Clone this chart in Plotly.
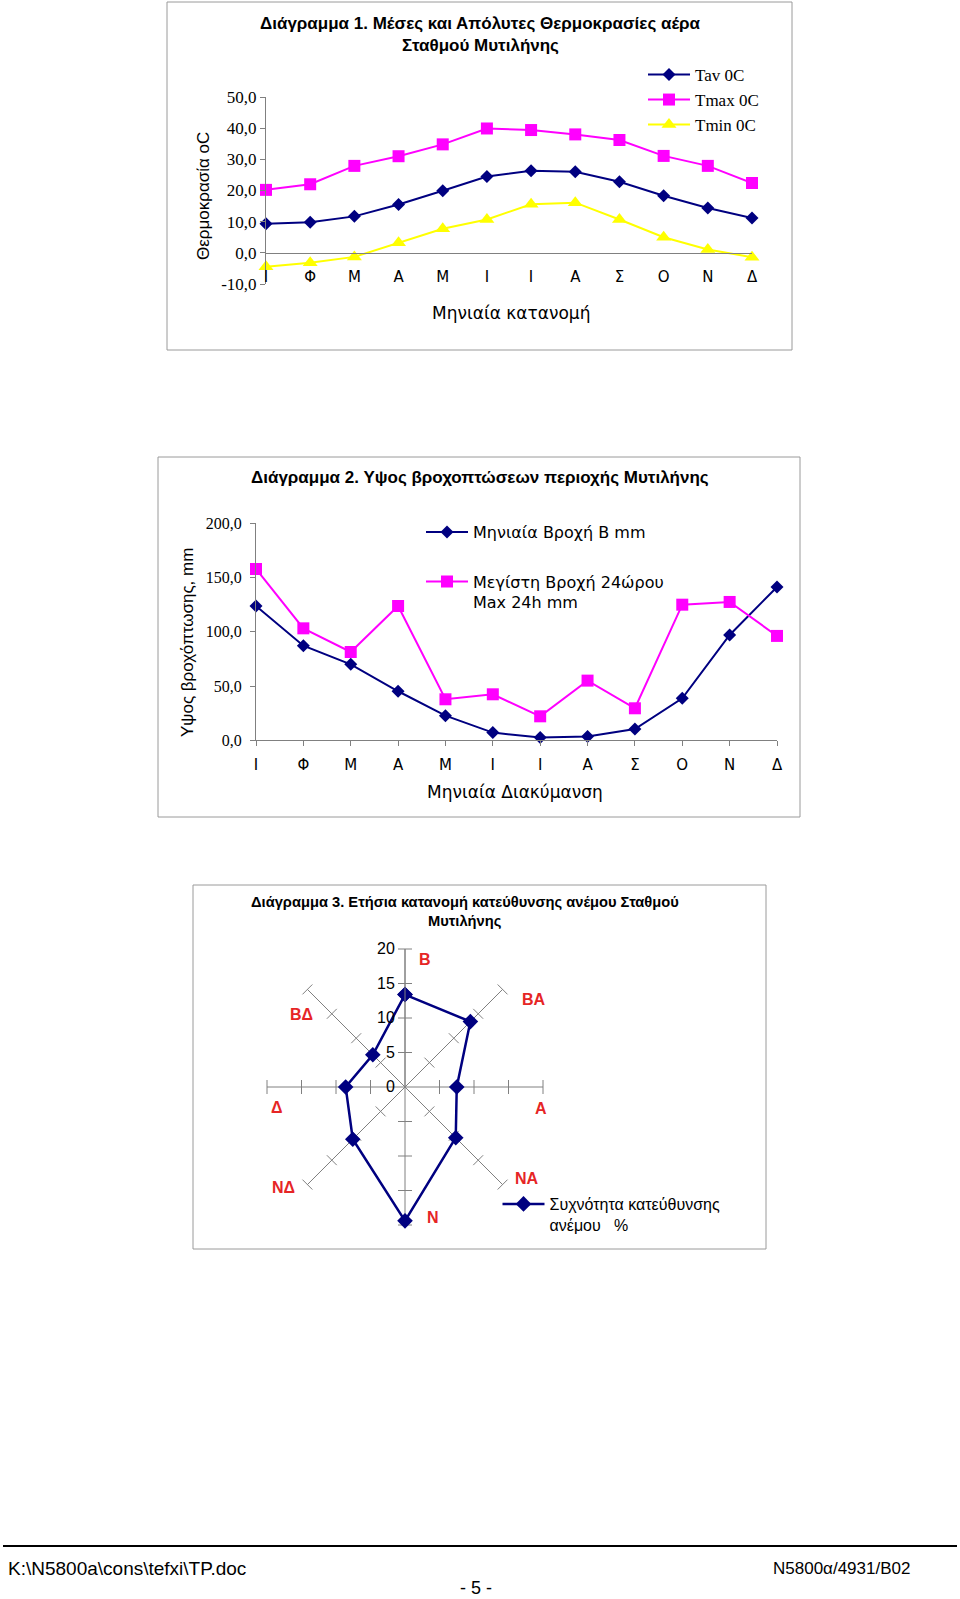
import plotly.graph_objects as go

W, H = 960, 1599

# ---------------- data ----------------
months = ["Ι", "Φ", "Μ", "Α", "Μ", "Ι", "Ι", "Α", "Σ", "Ο", "Ν", "Δ"]
t_av = [9.3, 9.8, 11.7, 15.5, 19.9, 24.5, 26.3, 26.0, 22.8, 18.3, 14.4, 11.2]
t_max = [20.2, 22.0, 27.9, 31.0, 34.8, 39.9, 39.4, 38.0, 36.2, 31.1, 27.9, 22.4]
t_min = [-4.5, -3.2, -1.3, 3.2, 7.7, 10.7, 15.6, 16.1, 10.7, 5.0, 1.1, -1.4]
temp_ticks = [-10, 0, 10, 20, 30, 40, 50]
temp_tick_labels = ["-10,0", "0,0", "10,0", "20,0", "30,0", "40,0", "50,0"]

rain_month = [123.8, 87.2, 70.0, 45.2, 22.7, 7.1, 2.5, 3.4, 10.4, 38.7, 97.1, 141.3]
rain_max24 = [157.9, 103.2, 81.4, 123.8, 37.8, 42.4, 22.1, 55.0, 29.5, 125.0, 127.5, 96.2]
rain_ticks = [0, 50, 100, 150, 200]
rain_tick_labels = ["0,0", "50,0", "100,0", "150,0", "200,0"]

wind_dirs = ["Β", "ΒΑ", "Α", "ΝΑ", "Ν", "ΝΔ", "Δ", "ΒΔ"]
wind_freq = [13.4, 13.4, 7.5, 10.4, 19.4, 10.7, 8.6, 6.6]
wind_ticks = [0, 5, 10, 15, 20]

# ---------------- helpers ----------------
def px(x):
    return x / W

def py(y):
    return 1 - y / H

SANS = "Liberation Sans, Arial, sans-serif"
SERIF = "Liberation Serif, Times New Roman, serif"
WIDE = "DejaVu Sans, sans-serif"
NAVY = "#000080"
MAG = "#FF00FF"
YEL = "#FFFF00"
GREY = "#808080"
RED = "#E62525"

idx = list(range(len(months)))

fig = go.Figure()

# ---------------- chart 1 ----------------
fig.add_trace(go.Scatter(x=idx, y=t_av, name="Tav 0C", mode="lines+markers",
                         line=dict(color=NAVY, width=2),
                         marker=dict(symbol="diamond", size=10, color=NAVY),
                         cliponaxis=False, xaxis="x", yaxis="y", legend="legend"))
fig.add_trace(go.Scatter(x=idx, y=t_max, name="Tmax 0C", mode="lines+markers",
                         line=dict(color=MAG, width=2),
                         marker=dict(symbol="square", size=12, color=MAG),
                         cliponaxis=False, xaxis="x", yaxis="y", legend="legend2"))
fig.add_trace(go.Scatter(x=idx, y=t_min, name="Tmin 0C", mode="lines+markers",
                         line=dict(color=YEL, width=2),
                         marker=dict(symbol="triangle-up", size=13, color=YEL),
                         cliponaxis=False, xaxis="x", yaxis="y", legend="legend3"))

# ---------------- chart 2 ----------------
fig.add_trace(go.Scatter(x=idx, y=rain_month, name="Μηνιαία Βροχή Β mm", mode="lines+markers",
                         line=dict(color=NAVY, width=2),
                         marker=dict(symbol="diamond", size=10, color=NAVY),
                         cliponaxis=False, xaxis="x2", yaxis="y2", legend="legend4"))
fig.add_trace(go.Scatter(x=idx, y=rain_max24, name="Μεγίστη Βροχή 24ώρου<br>Max 24h mm",
                         mode="lines+markers",
                         line=dict(color=MAG, width=2),
                         marker=dict(symbol="square", size=12, color=MAG),
                         cliponaxis=False, xaxis="x2", yaxis="y2", legend="legend5"))

# ---------------- chart 3 (radar) ----------------
tick_r = [t for d in wind_dirs for t in wind_ticks[1:]]
tick_theta = [d for d in wind_dirs for t in wind_ticks[1:]]
tick_angle = [i * 360 / len(wind_dirs) for i, d in enumerate(wind_dirs) for t in wind_ticks[1:]]
fig.add_trace(go.Scatterpolar(r=tick_r, theta=tick_theta, mode="markers",
                              marker=dict(symbol="line-ew", size=10, angle=tick_angle,
                                          line=dict(color=GREY, width=1)),
                              showlegend=False, hoverinfo="skip", subplot="polar"))
fig.add_trace(go.Scatterpolar(r=wind_freq + wind_freq[:1], theta=wind_dirs + wind_dirs[:1],
                              name="Συχνότητα κατεύθυνσης<br>ανέμου   %",
                              mode="lines+markers",
                              line=dict(color=NAVY, width=2.5),
                              marker=dict(symbol="diamond", size=12, color=NAVY),
                              subplot="polar", legend="legend6"))

# ---------------- layout ----------------
axis_common = dict(showgrid=False, zeroline=False, showline=True, linecolor=GREY, linewidth=1,
                   tickcolor=GREY, ticklen=5, automargin=False)

def legend_at(x, y, family, size, yanchor="middle", valign="middle"):
    return dict(x=px(x), y=py(y), xanchor="left", yanchor=yanchor, valign=valign,
                font=dict(family=family, size=size, color="black"), itemwidth=42,
                bgcolor="rgba(0,0,0,0)", borderwidth=0, tracegroupgap=0)

fig.update_layout(
    width=W, height=H, margin=dict(l=0, r=0, t=0, b=0, pad=0, autoexpand=False),
    paper_bgcolor="white", plot_bgcolor="white",
    xaxis=dict(domain=[px(266), px(752)], range=[0, 11], tickvals=idx, ticktext=months,
               anchor="free", position=py(252.8), ticks="",
               tickfont=dict(family=WIDE, size=15, color="black"), ticklabelstandoff=10,
               **axis_common),
    yaxis=dict(domain=[py(284), py(97)], range=[-10, 50], tickvals=temp_ticks,
               ticktext=temp_tick_labels, anchor="x", ticks="outside",
               tickfont=dict(family=SERIF, size=17, color="black"), **axis_common),
    xaxis2=dict(domain=[px(256), px(777)], range=[0, 11], tickvals=idx, ticktext=months,
                anchor="y2", ticks="outside",
                tickfont=dict(family=WIDE, size=15, color="black"), ticklabelstandoff=6,
                **axis_common),
    yaxis2=dict(domain=[py(740.3), py(523.3)], range=[0, 200], tickvals=rain_ticks,
                ticktext=rain_tick_labels, anchor="x2", ticks="outside",
                tickfont=dict(family=SERIF, size=16, color="black"), ticklabelstandoff=5,
                **axis_common),
    polar=dict(
        domain=dict(x=[px(405 - 138), px(405 + 138)], y=[py(1087 + 138), py(1087 - 138)]),
        bgcolor="rgba(0,0,0,0)",
        angularaxis=dict(type="category", categoryarray=wind_dirs, rotation=90,
                         direction="clockwise", showline=False, showgrid=True,
                         gridcolor=GREY, gridwidth=1, ticks="", showticklabels=False),
        radialaxis=dict(range=[0, 20], tickvals=wind_ticks, angle=90, side="counterclockwise",
                        tickangle=90, showgrid=False, showline=True, linecolor=GREY,
                        ticks="outside", ticklen=4, tickcolor="rgba(0,0,0,0)",
                        tickfont=dict(family=SANS, size=16, color="black")),
    ),
    legend=legend_at(643, 75, SERIF, 17),
    legend2=legend_at(643, 100, SERIF, 17),
    legend3=legend_at(643, 125, SERIF, 17),
    legend4=legend_at(421, 532, WIDE, 16),
    legend5=legend_at(421, 564.5, WIDE, 16, yanchor="top", valign="top"),
    legend6=legend_at(497.5, 1187, SANS, 16, yanchor="top", valign="top"),
    showlegend=True,
)

# ---------------- frames & footer line ----------------
shapes = []
for (x0, y0, x1, y1) in [(167, 2, 792, 350), (158, 457, 800, 817), (193, 885, 766, 1249)]:
    shapes.append(dict(type="rect", xref="paper", yref="paper", x0=px(x0), x1=px(x1),
                       y0=py(y1), y1=py(y0), line=dict(color="#9a9a9a", width=1),
                       fillcolor="rgba(0,0,0,0)", layer="below"))
shapes.append(dict(type="line", xref="paper", yref="paper", x0=px(3), x1=px(957),
                   y0=py(1546), y1=py(1546), line=dict(color="black", width=2)))
fig.update_layout(shapes=shapes)

# ---------------- texts ----------------
def ann(text, x, y, family=SANS, size=16, color="black", xanchor="center", angle=0, bold=False):
    if bold:
        text = "<b>" + text + "</b>"
    fig.add_annotation(text=text, x=px(x), y=py(y), xref="paper", yref="paper",
                       xanchor=xanchor, yanchor="middle", showarrow=False, textangle=angle,
                       font=dict(family=family, size=size, color=color))

ann("Διάγραμμα 1. Μέσες και Απόλυτες Θερμοκρασίες αέρα", 480.5, 24, size=17, bold=True)
ann("Σταθμού Μυτιλήνης", 480.5, 46, size=17, bold=True)
ann("Θερμοκρασία οC", 203, 196, family=SANS, size=17, angle=-90)
ann("Μηνιαία κατανομή", 511, 313, family=WIDE, size=17)

ann("Διάγραμμα 2. Υψος βροχοπτώσεων περιοχής Μυτιλήνης", 479.5, 478, size=17, bold=True)
ann("Υψος βροχόπτωσης, mm", 188, 643, family=SANS, size=17, angle=-90)
ann("Μηνιαία Διακύμανση", 515, 792, family=WIDE, size=17)

ann("Διάγραμμα 3. Ετήσια κατανομή κατεύθυνσης ανέμου Σταθμού", 465, 902, size=14.7, bold=True)
ann("Μυτιλήνης", 465, 921, size=14.7, bold=True)
dir_label_pos = [(424.5, 959), (534, 999), (541, 1108), (527, 1178),
                 (432.5, 1217), (283, 1187), (277, 1107), (301, 1014)]
for d, (lx, ly) in zip(wind_dirs, dir_label_pos):
    ann(d, lx, ly, size=16, color=RED, bold=True)

ann(r"K:\N5800a\cons\tefxi\TP.doc", 6, 1568, size=19, xanchor="left")
ann("N5800α/4931/B02", 912, 1568, size=17, xanchor="right")
ann("- 5 -", 475.5, 1588, size=18)

fig.write_html("out.html", config={"displayModeBar": False},
               post_script="document.body.style.margin='0';")
